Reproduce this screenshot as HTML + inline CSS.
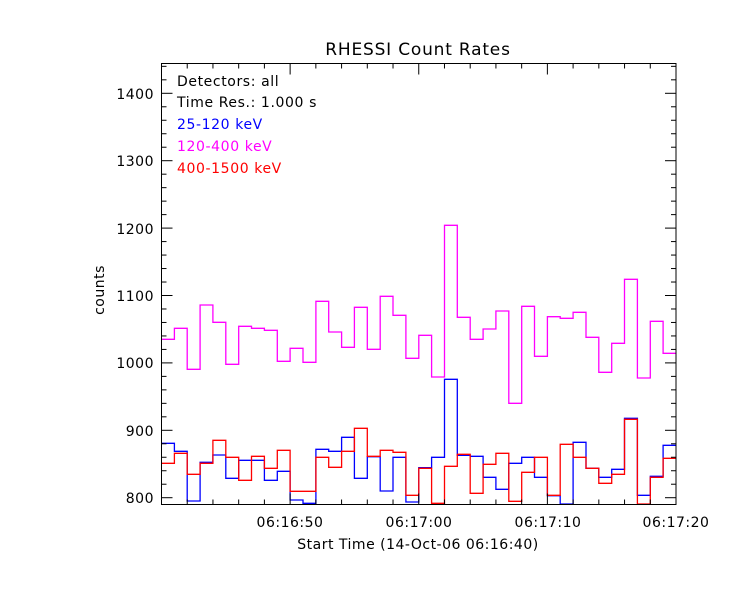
<!DOCTYPE html>
<html><head><meta charset="utf-8"><style>
body{margin:0;background:#fff;}
svg{display:block;font-family:"DejaVu Sans","Liberation Sans",sans-serif;}
</style></head><body>
<svg id="s" width="750" height="600" xmlns="http://www.w3.org/2000/svg">
<rect width="750" height="600" fill="#fff"/>
<text x="418" y="55" font-size="17" letter-spacing="0.8" text-anchor="middle">RHESSI Count Rates</text>
<g font-size="14" text-anchor="end" letter-spacing="0.5">
<text x="154" y="503">800</text>
<text x="154" y="436">900</text>
<text x="154" y="368">1000</text>
<text x="154" y="301">1100</text>
<text x="154" y="234">1200</text>
<text x="154" y="166">1300</text>
<text x="154" y="99">1400</text>
</g>
<g font-size="14" text-anchor="middle" letter-spacing="0.5">
<text x="290" y="527">06:16:50</text>
<text x="419" y="527">06:17:00</text>
<text x="548" y="527">06:17:10</text>
<text x="676" y="527">06:17:20</text>
<text x="418" y="549">Start Time (14-Oct-06 06:16:40)</text>
</g>
<text x="104" y="290" font-size="14" letter-spacing="0.5" text-anchor="middle" transform="rotate(-90 104 290)">counts</text>
<g font-size="14" letter-spacing="0.6">
<text x="177" y="86">Detectors: all</text>
<text x="177" y="107">Time Res.: 1.000 s</text>
<text x="177" y="129" fill="#0000ff">25-120 keV</text>
<text x="177" y="151" fill="#ff00ff">120-400 keV</text>
<text x="177" y="173" fill="#ff0000">400-1500 keV</text>
</g>
<g id="plot"></g>
<rect x="161.5" y="63.5" width="514.5" height="441" fill="none" stroke="#000" stroke-width="1"/>
<g id="ticks" stroke="#000" stroke-width="1"></g>
</svg>
<script>
var x0=161.5,x1=676,w=(x1-x0)/40;
var mag=[339.3,328.3,369.3,305,322.3,364.3,326.3,328.3,330.3,361.3,348.3,362.3,301.3,332,347.3,307.3,349.3,296.3,315.3,358.3,335.3,377,225.3,317.3,339.3,329,311,403.3,306.3,356.3,316.7,318.3,312.3,337.3,372.3,343.3,279.3,378,321.3,353.3];
var blu=[443.3,451.3,501,462.3,455,478.3,460.3,460.3,480.3,471.3,500,503.3,449.3,451.3,437.3,478.3,456.7,491,457.3,502,467.7,457.3,379.3,455.3,456.3,477.3,489.3,463.3,457.3,477.3,495.7,504,442.3,468.3,477.3,469.3,418.3,495.3,476.3,445.3];
var red=[463.3,453.3,474.3,463.3,440.3,457.3,480.3,456.3,468.3,450.3,491.3,491.3,457.3,467.3,451.3,428.3,456.3,450.3,452.3,495.3,468.3,503.3,466.3,454.3,493.3,464.3,453.3,501.3,472.3,457.3,495.3,444.3,457.3,468.3,483.3,474.3,419.3,504,477.3,458.3];
function path(a){var d="M"+x0+","+a[0];for(var i=0;i<a.length;i++){var xa=x0+i*w,xb=x0+(i+1)*w;d+=" L"+xa.toFixed(1)+","+a[i]+" L"+xb.toFixed(1)+","+a[i];}return d;}
var g=document.getElementById("plot"),h="";
[[blu,"#0000ff"],[mag,"#ff00ff"],[red,"#ff0000"]].forEach(function(p){h+='<path d="'+path(p[0])+'" fill="none" stroke="'+p[1]+'" stroke-width="1.3"/>';});
g.innerHTML=h;
var t="";
for(var v=800;v<=1440;v+=20){var y=497.7-(v-800)*0.674;if(y<63.5)break;var L=(v%100==0)?11:5;
t+='<line x1="161.5" y1="'+y+'" x2="'+(161.5+L)+'" y2="'+y+'"/><line x1="676" y1="'+y+'" x2="'+(676-L)+'" y2="'+y+'"/>';}
for(var s=0;s<=40;s+=2){var x=x0+s*w;var L=(s%10==0)?11:5;
t+='<line x1="'+x+'" y1="504.5" x2="'+x+'" y2="'+(504.5-L)+'"/><line x1="'+x+'" y1="63.5" x2="'+x+'" y2="'+(63.5+L)+'"/>';}
document.getElementById("ticks").innerHTML=t;
</script>
</body></html>
